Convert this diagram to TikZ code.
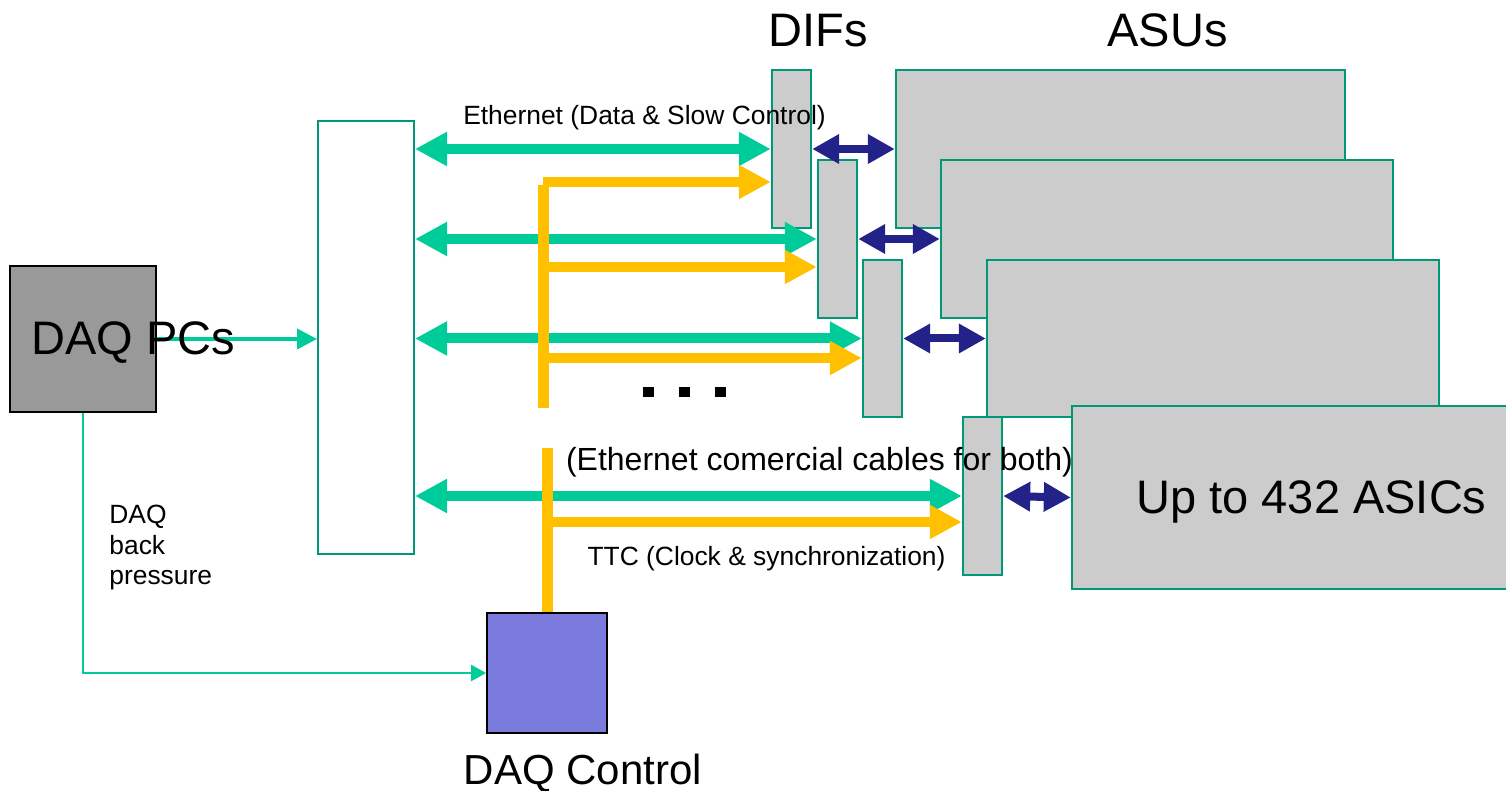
\documentclass[tikz,border=0pt]{standalone}
\usepackage{fontspec}
\setmainfont{Liberation Sans}
\usetikzlibrary{arrows.meta}
\definecolor{ethgreen}{HTML}{00CC99}
\definecolor{boxline}{HTML}{009977}
\definecolor{difgray}{HTML}{CCCCCC}
\definecolor{pcgray}{HTML}{999999}
\definecolor{ctrlblue}{HTML}{7B7BDD}
\definecolor{ttcorange}{HTML}{FFC000}
\definecolor{linkblue}{HTML}{222288}
\begin{document}
\begin{tikzpicture}[x=0.5pt, y=-0.5pt,
    board/.style={rectangle, draw=boxline, line width=1.2pt, fill=difgray, inner sep=0pt},
    blackbox/.style={rectangle, draw=black, line width=0.9pt, inner sep=0pt},
    eth/.style={draw=ethgreen, line width=5pt, {Triangle[length=16pt,width=16pt]}-{Triangle[length=16pt,width=16pt]}},
    ttc/.style={draw=ttcorange, line width=5pt, -{Triangle[length=16pt,width=16pt]}},
    trunk/.style={draw=ttcorange, line width=5.5pt},
    link/.style={draw=linkblue, line width=4pt, {Triangle[length=13.5pt,width=14pt]}-{Triangle[length=13.5pt,width=14pt]}},
    data/.style={draw=ethgreen, line width=2pt, -{Triangle[length=10pt,width=10pt]}},
    backp/.style={draw=ethgreen, line width=1.2pt, -{Triangle[length=7.5pt,width=8pt]}},
    bigtext/.style={font=\fontsize{23.5}{28}\selectfont, inner sep=0pt},
    smalltext/.style={font=\fontsize{13.2}{15.25}\selectfont, inner sep=0pt}]
    \clip (0,0) rectangle (1506,791);

    % Nodes
    \node[blackbox, fill=pcgray, minimum width=73pt, minimum height=73pt] at (83, 339) (pcs) {};
    \node[board, fill=white, line width=1pt, minimum width=48pt, minimum height=216.5pt] at (366, 337.5) (switch) {};
    \node[blackbox, fill=ctrlblue, minimum width=60pt, minimum height=60pt] at (547, 673) (ctrl) {};

    \node[board, minimum width=224.5pt, minimum height=79pt] at (1120.5, 149) (asu1) {};
    \node[board, minimum width=226pt, minimum height=79pt] at (1167, 239) (asu2) {};
    \node[board, minimum width=226pt, minimum height=78.5pt] at (1213, 338.5) (asu3) {};
    \node[board, minimum width=218pt, minimum height=91.5pt] at (1290, 497.5) (asu4) {};

    \node[board, minimum width=19.5pt, minimum height=79pt] at (791.5, 149) (dif1) {};
    \node[board, minimum width=19.5pt, minimum height=79pt] at (837.5, 239) (dif2) {};
    \node[board, minimum width=19.5pt, minimum height=78.5pt] at (882.5, 338.5) (dif3) {};
    \node[board, minimum width=19.5pt, minimum height=79pt] at (982.5, 496) (dif4) {};

    % TTC branch points
    \coordinate (t1) at (543, 182);
    \coordinate (t2) at (543, 267);
    \coordinate (t3) at (543, 358);
    \coordinate (tt) at (543, 185);
    \coordinate (tb) at (543, 408);
    \coordinate (c1) at (547, 448);
    \coordinate (t4) at (547, 522);

    % Ethernet
    \draw[eth] (switch.east |- dif1.west) -- (dif1.west);
    \draw[eth] (switch.east |- dif2.west) -- (dif2.west);
    \draw[eth] (switch.east |- dif3.west) -- (dif3.west);
    \draw[eth] (switch.east |- dif4.west) -- (dif4.west);

    % TTC
    \draw[trunk] (tt) -- (tb);
    \draw[trunk] (c1) -- (ctrl.north);
    \draw[ttc] (t1) -- (t1 -| dif1.west);
    \draw[ttc] (t2) -- (t2 -| dif2.west);
    \draw[ttc] (t3) -- (t3 -| dif3.west);
    \draw[ttc] (t4) -- (t4 -| dif4.west);

    % DIF to ASU
    \draw[link] (dif1.east) -- (asu1.west);
    \draw[link] (dif2.east) -- (asu2.west);
    \draw[link] (dif3.east) -- (asu3.west);
    \draw[link] (dif4.east) -- (asu4.west);

    % DAQ PCs
    \draw[data] (pcs.east) -- (pcs.east -| switch.west);
    \draw[backp] (pcs.south) |- (ctrl.west);

    % Labels
    \node[bigtext, anchor=base] at (818, 47) (difs) {DIFs};
    \node[bigtext, anchor=base] at (1167.5, 47) (asus) {ASUs};
    \node[bigtext, anchor=base] at (133.5, 355) (pcstext) {DAQ PCs};
    \node[bigtext, anchor=base] at (1311.5, 513) (asicstext) {Up to 432 ASICs};
    \node[font=\fontsize{21}{25}\selectfont, inner sep=0pt, anchor=base] at (583, 784) (ctrltext) {DAQ Control};
    \node[smalltext, anchor=base] at (644.5, 125) (ethtext) {Ethernet (Data \& Slow Control)};
    \node[font=\fontsize{16}{19}\selectfont, inner sep=0pt, anchor=base] at (819.5, 471) (cabletext) {(Ethernet comercial cables for both)};
    \node[smalltext, anchor=base] at (766.5, 565) (ttctext) {TTC (Clock \& synchronization)};
    \node[smalltext, align=left, anchor=north west] at (109, 505) (bptext) {DAQ\\back\\pressure};
    \node[inner sep=0pt] at (684, 392) (dots) {\rule{5.5pt}{5.5pt}\hspace{12.5pt}\rule{5.5pt}{5.5pt}\hspace{12.5pt}\rule{5.5pt}{5.5pt}};
\end{tikzpicture}
\end{document}
